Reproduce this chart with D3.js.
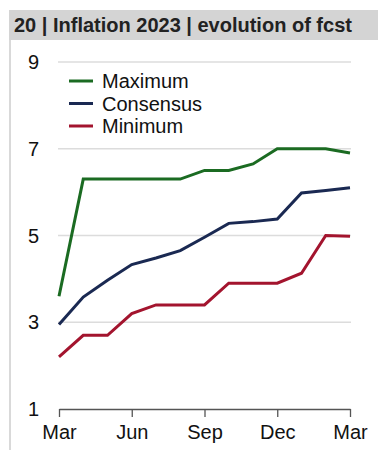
<!DOCTYPE html>
<html>
<head>
<meta charset="utf-8">
<title>Inflation 2023</title>
<script src="https://d3js.org/d3.v7.min.js"></script>
<style>
  body { margin: 0; background: #fff; }
  text { font-family: "Liberation Sans", Arial, sans-serif; }
</style>
</head>
<body>
<script>
// data: monthly survey, Mar 2022 .. Mar 2023
var months = ["Mar","Apr","May","Jun","Jul","Aug","Sep","Oct","Nov","Dec","Jan","Feb","Mar"];
var tickLabels = ["Mar","Jun","Sep","Dec","Mar"];
var maximum   = [3.6, 6.3, 6.3, 6.3, 6.3, 6.3, 6.5, 6.5, 6.65, 7.0, 7.0, 7.0, 6.9];
var consensus = [2.95, 3.58, 3.97, 4.33, 4.48, 4.65, 4.96, 5.28, 5.32, 5.38, 5.98, 6.04, 6.1];
var minimum   = [2.2, 2.7, 2.7, 3.2, 3.4, 3.4, 3.4, 3.9, 3.9, 3.9, 4.13, 5.0, 4.98];
var seriesNames = ["Maximum", "Consensus", "Minimum"];
var colors = ["#1b6b22", "#1a2952", "#a3142e"];

var W = 378, H = 450;
var svg = d3.select("body").append("svg")
    .attr("width", W).attr("height", H);

// header bar and frame
svg.append("rect").attr("x", 9).attr("y", 10).attr("width", W - 9).attr("height", 30)
    .attr("fill", "#d4d4d4");
svg.append("text").attr("x", 14).attr("y", 32)
    .attr("font-size", 20).attr("font-weight", "bold").attr("fill", "#222")
    .text("20 | Inflation 2023 | evolution of fcst");
svg.append("rect").attr("x", 9).attr("y", 40).attr("width", 2).attr("height", H - 40)
    .attr("fill", "#d9d9d9");

var x = d3.scaleLinear().domain([0, months.length - 1]).range([59, 350]);
var y = d3.scaleLinear().domain([1, 9]).range([409, 62]);

// grid
var g = svg.append("g");
[3, 5, 7, 9].forEach(function(v) {
  g.append("line").attr("x1", 58).attr("x2", 351)
    .attr("y1", y(v)).attr("y2", y(v))
    .attr("stroke", "#dcdcdc").attr("stroke-width", 1.5);
});

// y labels
[1, 3, 5, 7, 9].forEach(function(v) {
  svg.append("text").attr("x", 39).attr("y", y(v) + 7)
    .attr("text-anchor", "end").attr("font-size", 20).attr("fill", "#111")
    .text(v);
});

// x axis
var xAxis = d3.axisBottom(x)
    .tickValues([0, 3, 6, 9, 12])
    .tickFormat(function(d, i) { return tickLabels[i]; })
    .tickSize(8).tickSizeOuter(0);
var ax = svg.append("g").attr("transform", "translate(0," + y(1) + ")").call(xAxis);
ax.select(".domain").attr("stroke", "#555").attr("stroke-width", 1.3);
ax.selectAll(".tick line").attr("stroke", "#555").attr("stroke-width", 1.3);
ax.selectAll(".tick text").attr("font-size", 20).attr("fill", "#111")
    .attr("font-family", "Liberation Sans, Arial, sans-serif").attr("dy", "0.95em");

// lines
var line = d3.line().x(function(d, i) { return x(i); }).y(function(d) { return y(d); });
[maximum, consensus, minimum].forEach(function(s, k) {
  svg.append("path").datum(s).attr("d", line)
    .attr("fill", "none").attr("stroke", colors[k]).attr("stroke-width", 3)
    .attr("stroke-linejoin", "miter");
});

// legend
seriesNames.forEach(function(n, k) {
  var ly = 81 + k * 22.5;
  svg.append("line").attr("x1", 69).attr("x2", 93).attr("y1", ly).attr("y2", ly)
    .attr("stroke", colors[k]).attr("stroke-width", 3);
  svg.append("text").attr("x", 102).attr("y", ly + 7)
    .attr("font-size", 20).attr("fill", "#111").text(n);
});
</script>
</body>
</html>
